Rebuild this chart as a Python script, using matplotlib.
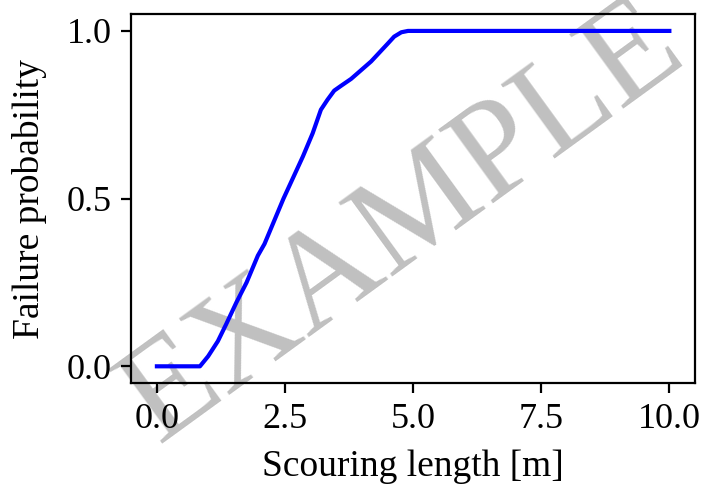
import matplotlib.pyplot as plt

plt.rcParams['font.family'] = ['Liberation Serif', 'DejaVu Serif']
plt.rcParams['font.size'] = 13

# scouring length [m] vs failure probability
length = [0.0, 0.84, 1.0, 1.19, 1.35, 1.55, 1.75, 1.97, 2.10, 2.47, 2.85,
          3.04, 3.2, 3.33, 3.46, 3.59, 3.79, 4.18, 4.51, 4.63, 4.77, 4.90, 10.0]
prob = [0.0, 0.0, 0.03, 0.075, 0.125, 0.19, 0.25, 0.33, 0.365, 0.50, 0.626,
        0.695, 0.765, 0.795, 0.822, 0.836, 0.857, 0.909, 0.963, 0.983, 0.996,
        1.0, 1.0]

fig = plt.figure(figsize=(3.51, 2.44), dpi=200)
ax = fig.add_axes([0.187, 0.215, 0.803, 0.756])
ax.patch.set_alpha(0)
ax.plot(length, prob, color='blue', lw=1.5)
ax.set_xticks([0.0, 2.5, 5.0, 7.5, 10.0])
ax.set_yticks([0.0, 0.5, 1.0])
ax.set_xlabel("Scouring length [m]", fontsize=13.5, labelpad=5)
ax.set_ylabel("Failure probability", fontsize=13.5, labelpad=7)

# watermark sits behind the axes
fig.text(0.575, 0.54, "EXAMPLE", fontsize=50, color='#c0c0c0',
         rotation=36, ha='center', va='center', zorder=-1)

fig.savefig("out.png", dpi=200)
